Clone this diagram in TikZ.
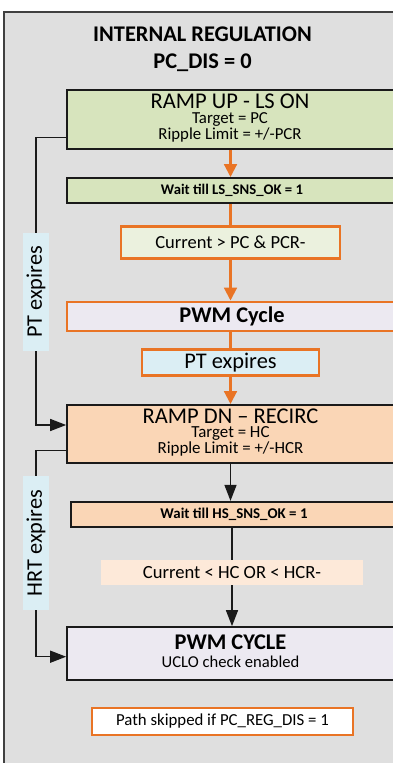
\documentclass[tikz,border=0pt]{standalone}
\usepackage{fontspec}
\setmainfont{Carlito}
\usetikzlibrary{arrows.meta}
\pgfdeclarelayer{back}
\pgfdeclarelayer{wires}
\pgfsetlayers{back,wires,main}

\definecolor{panel}{HTML}{DFDFDF}
\definecolor{panelline}{HTML}{404040}
\definecolor{boxline}{HTML}{1A1A1A}
\definecolor{grn}{HTML}{D7E4BD}
\definecolor{lgrn}{HTML}{EBF1DE}
\definecolor{lav}{HTML}{ECE9F1}
\definecolor{lblue}{HTML}{DBEEF4}
\definecolor{peach}{HTML}{FAD6B6}
\definecolor{lpeach}{HTML}{FDE9D9}
\definecolor{org}{HTML}{E97425}

\newcommand\setfs[1]{\fontsize{#1}{#1}\selectfont}

\begin{document}
\begin{tikzpicture}[x=1pt,y=-1pt,
  wide/.style={draw=boxline, line width=1.7pt, minimum width=330pt, inner sep=0pt},
  obox/.style={draw=org, line width=2.7pt, inner sep=0pt},
  txt/.style={anchor=north, inner sep=0pt, align=center},
  oarr/.style={draw=org, line width=3pt, -{Triangle[width=12.5pt,length=13pt]}},
  oln/.style={draw=org, line width=3pt},
  barr/.style={draw=boxline, line width=1.4pt, -{Triangle[width=12pt,length=16pt]}},
  bln/.style={draw=boxline, line width=1.4pt},
  lbl/.style={fill=lblue, inner sep=0pt, rotate=90, font=\setfs{22.3}}
]
\useasboundingbox (0,0) rectangle (393,763);
\clip (0,0) rectangle (393,763);

% grey panel behind the whole flow
\begin{pgfonlayer}{back}
  \draw[fill=panel, draw=panelline, line width=2pt] (4,12) rectangle (430,800);
\end{pgfonlayer}

% heading
\node[txt, font=\bfseries\setfs{22.4}] (title) at (202.5,26.5)
  {INTERNAL REGULATION\\[4.9pt]PC\_DIS = 0};

% ramp up phase
\node[wide, fill=grn, minimum height=59pt] (ru) at (232,119.5) {};
\node[txt, font=\setfs{16.8}] (rutxt) at (230,94.1)
  {{\setfs{22.5}RAMP UP - LS ON}\\[-2.4pt]Target = PC\\[-0.2pt]Ripple Limit = +/-PCR};

\node[wide, fill=grn, minimum height=25pt, font=\bfseries\setfs{14.7}] (wl) at (232,190.5) {Wait till LS\_SNS\_OK = 1};
\node[obox, fill=lgrn, minimum width=219pt, minimum height=32pt, font=\setfs{18.5}] (cur) at (230.5,242.3) {Current > PC \& PCR-};
\node[obox, fill=lav, minimum width=330pt, minimum height=29pt, font=\bfseries\setfs{22.4}] (pwm) at (232,316.5) {PWM Cycle};
\node[obox, fill=lblue, minimum width=177pt, minimum height=26pt, font=\setfs{22.4}] (pte) at (230.5,362.5) {PT expires};

% ramp down phase
\node[wide, fill=peach, minimum height=58pt] (rd) at (232,434) {};
\node[txt, font=\setfs{16.9}] (rdtxt) at (230.5,409.1)
  {{\setfs{22.5}RAMP DN -- RECIRC}\\[-2.9pt]Target = HC\\[-0.9pt]Ripple Limit = +/-HCR};

\node[wide, fill=peach, minimum width=326pt, minimum height=25pt, font=\bfseries\setfs{14.9}] (wh) at (234,514.2) {Wait till HS\_SNS\_OK = 1};
\node[fill=lpeach, inner sep=0pt, minimum width=262pt, minimum height=25pt, font=\setfs{18.6}] (cul) at (232,572.5) {Current < HC OR < HCR-};

\node[wide, fill=lav, minimum height=53pt] (pw2) at (232,653.5) {};
\node[txt, font=\setfs{16.6}] (pw2txt) at (230.5,634.8)
  {{\bfseries\setfs{22.4}PWM CYCLE}\\[1.1pt]UCLO check enabled};

\node[obox, fill=white, minimum width=261pt, minimum height=27pt, font=\setfs{16.8}] (skip) at (222.5,721.5) {Path skipped if PC\_REG\_DIS = 1};

% timeout labels on the return paths
\node[lbl, minimum width=118pt, minimum height=26pt] (ptl) at (36,292) {PT expires};
\node[lbl, minimum width=134pt, minimum height=26pt] (hrtl) at (36,543) {HRT expires};

% main flow
\draw[oarr] (ru.south -| cur.center) -- (wl.north -| cur.center);
\draw[oln] (wl.south -| cur.center) -- (cur.north);
\draw[oarr] (cur.south) -- (pwm.north -| cur.center);
\draw[oln] (pwm.south -| pte.center) -- (pte.north);
\draw[oarr] (pte.south) -- (rd.north -| pte.center);
\draw[barr] (rd.south -| pte.center) -- (wh.north -| pte.center);
\draw[bln] (wh.south -| cul.center) -- (cul.north);
\draw[barr] (cul.south) -- (pw2.north -| cul.center);

% return paths
\begin{pgfonlayer}{wires}
  \draw[barr] ([yshift=-17.8pt]ru.west) -| (ptl.center) |- ([yshift=9pt]rd.west);
  \draw[barr] ([yshift=-16.7pt]rd.west) -| (hrtl.center) |- ([yshift=-3.2pt]pw2.west);
\end{pgfonlayer}
\end{tikzpicture}
\end{document}
